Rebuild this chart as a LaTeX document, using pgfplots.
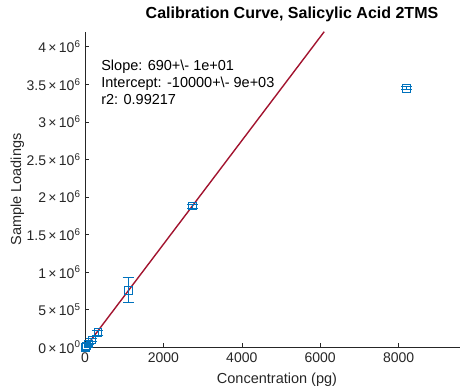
\documentclass[border=0pt]{standalone}
\usepackage{fontspec}
\setmainfont{Liberation Sans}
\usepackage{pgfplots}
\pgfplotsset{compat=1.18}
\usetikzlibrary{calc}
\definecolor{mblue}{RGB}{0,114,189}
\definecolor{mred}{RGB}{162,20,47}
\definecolor{axgray}{RGB}{38,38,38}
\newcommand{\sci}[2]{#1\,\texttimes\,10\textsuperscript{#2}}
\begin{document}
\begin{tikzpicture}
\begin{axis}[name=ax, scale only axis, width=375pt, height=315.5pt,
  xmin=0, xmax=9566, ymin=0, ymax=4200000,
  axis x line*=bottom, axis y line*=left,
  axis line style={axgray, line width=0.5pt, -},
  tick align=inside, major tick length=4pt, tick style={axgray, line width=0.5pt},
  scaled x ticks=false, scaled y ticks=false,
  /pgf/number format/assume math mode=true,
  xtick={0,2000,4000,6000,8000}, xticklabels={0,2000,4000,6000,8000},
  ytick={0,500000,1000000,1500000,2000000,2500000,3000000,3500000,4000000},
  yticklabels={\sci{0}{0},\sci{5}{5},\sci{1}{6},\sci{1.5}{6},\sci{2}{6},\sci{2.5}{6},\sci{3}{6},\sci{3.5}{6},\sci{4}{6}},
  ticklabel style={font=\fontsize{14}{16}\selectfont, text=axgray},
  xticklabel style={yshift=-1.5pt},
  yticklabel style={xshift=-1pt},
  xlabel={Concentration (pg)}, ylabel={Sample Loadings},
  label style={font=\fontsize{14.5}{16}\selectfont, text=axgray},
  xlabel style={at={(rel axis cs:0.512,0)}, anchor=base, yshift=-36pt},
  ylabel style={at={(rel axis cs:0,0.5)}, anchor=center, rotate=0, yshift=67.5pt},
  title={Calibration Curve, Salicylic Acid 2TMS},
  title style={font=\bfseries\fontsize{16}{18}\selectfont, at={(rel axis cs:0.552,1)}, anchor=base, yshift=7pt},
]
\addplot[mred, line width=1.4pt] coordinates {(0,-10000) (6102,4200000)};
\addplot[mblue, only marks, mark=square, mark size=3.8pt, mark options={line width=0.6pt},
  error bars/.cd, y dir=both, y explicit,
  error bar style={line width=0.6pt},
  error mark options={rotate=90, mark size=5.5pt, line width=0.6pt}]
 coordinates {
 (5,2500) +- (0,1500)
 (10,5000) +- (0,2000)
 (20,10000) +- (0,3000)
 (40,20000) +- (0,4000)
 (80,45000) +- (0,8000)
 (170,100000) +- (0,15000)
 (330,195000) +- (0,30000)
 (1100,760000) +- (0,165000)
 (2740,1880000) +- (0,25000)
 (8200,3450000) +- (0,20000)
 };
\node[anchor=north west, align=left, font=\fontsize{14.5}{16.8}\selectfont, text=black, inner sep=0pt]
  at (rel axis cs:0.043,0.91) {Slope: 690+\textbackslash- 1e+01\\Intercept: -10000+\textbackslash- 9e+03\\r2: 0.99217};
\end{axis}
\pgfresetboundingbox
\useasboundingbox ($(ax.south west)+(-85pt,-40pt)$) rectangle ($(ax.north east)+(0pt,31.7pt)$);
\end{tikzpicture}
\end{document}
